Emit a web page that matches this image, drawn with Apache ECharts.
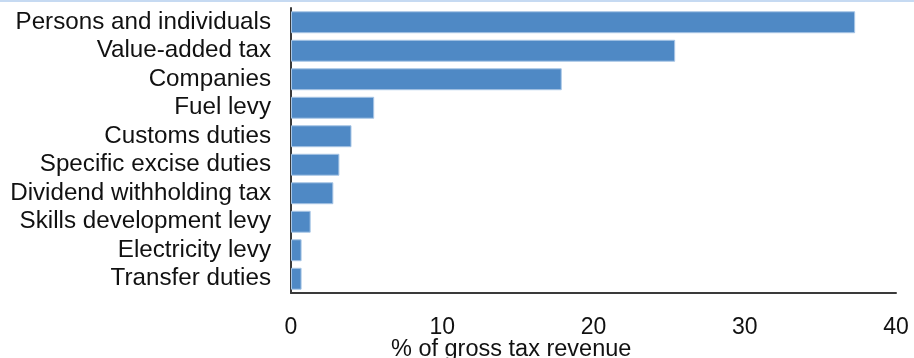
<!DOCTYPE html>
<html>
<head>
<meta charset="utf-8">
<script src="https://cdn.jsdelivr.net/npm/echarts@6/dist/echarts.min.js"></script>
<style>
  html, body { margin: 0; padding: 0; background: #fff; }
  #chart { width: 914px; height: 358px; }
</style>
</head>
<body>
<div id="chart"></div>
<script>
// Main tax instruments, top to bottom
const categories = [
  'Persons and individuals',
  'Value-added tax',
  'Companies',
  'Fuel levy',
  'Customs duties',
  'Specific excise duties',
  'Dividend withholding tax',
  'Skills development levy',
  'Electricity levy',
  'Transfer duties'
];
// Share of gross tax revenue, %
const shares = [37.3, 25.4, 17.9, 5.5, 4.0, 3.2, 2.8, 1.3, 0.7, 0.7];
const xTicks = [0, 10, 20, 30, 40];
const axisTitle = '% of gross tax revenue';

const FONT = '"Liberation Sans", Arial, sans-serif';
const chart = echarts.init(document.getElementById('chart'), null, { renderer: 'canvas' });

chart.setOption({
  animation: false,
  backgroundColor: '#ffffff',
  grid: { left: 291, right: 18, top: 8, bottom: 65, containLabel: false },
  xAxis: {
    type: 'value',
    min: xTicks[0],
    max: xTicks[xTicks.length - 1],
    interval: xTicks[1] - xTicks[0],
    axisLine: { show: true, lineStyle: { color: '#3a3a3a', width: 2 } },
    axisTick: { show: false },
    splitLine: { show: false },
    axisLabel: { color: '#111', fontFamily: FONT, fontSize: 23, margin: 23 }
  },
  yAxis: {
    type: 'category',
    inverse: true,
    data: categories,
    axisLine: { show: true, lineStyle: { color: '#3a3a3a', width: 2 } },
    axisTick: { show: false },
    axisLabel: { color: '#111', fontFamily: FONT, fontSize: 24.2, margin: 20, interval: 0 }
  },
  series: [{
    type: 'bar',
    data: shares,
    barCategoryGap: '23%',
    itemStyle: { color: '#4f89c5', borderColor: '#a8c6e6', borderWidth: 1 }
  }],
  graphic: [
    { type: 'rect', shape: { x: 0, y: 0, width: 914, height: 2 }, style: { fill: '#c6daf2' } },
    {
      type: 'text', left: 391, top: 338,
      style: { text: axisTitle, fill: '#111', font: '23.5px ' + FONT }
    }
  ]
});
</script>
</body>
</html>
